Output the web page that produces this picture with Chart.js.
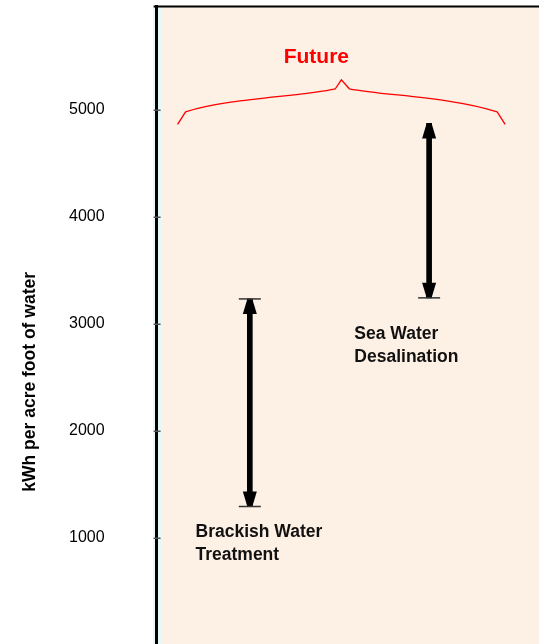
<!DOCTYPE html>
<html>
<head>
<meta charset="utf-8">
<script src="https://cdn.jsdelivr.net/npm/chart.js@4/dist/chart.umd.min.js"></script>
<style>
  html, body { margin: 0; padding: 0; background: #ffffff; overflow: hidden; width: 539px; height: 644px; }
  #wrap { position: absolute; left: 0; top: 0; }
</style>
</head>
<body>
<div id="wrap"><canvas id="c" width="560" height="762"></canvas></div>
<script>
// ---- data ----
const categories = ["Brackish Water Treatment", "Sea Water Desalination"];
const categoryLines = [["Brackish Water", "Treatment"], ["Sea Water", "Desalination"]];
const rangeLow  = [1290, 3240];
const rangeHigh = [3230, 4870];
const tickValues = [1000, 2000, 3000, 4000, 5000];
const tickLabels = ["1000", "2000", "3000", "4000", "5000"];
const axisTitle = "kWh per acre foot of water";
const futureLabel = "Future";

// ---- layout / annotation settings ----
const FONT = "'Liberation Sans', Arial, Helvetica, sans-serif";
const yMin = -1053, yMax = 5963;
const xMin = 0.48, xMax = 2.73;
const capTop = [true, false];
const labelAnchor = [{x: 0.697, y: 1009}, {x: 1.583, y: 2857}];
const brace = {x0: 0.597, x1: 2.424, yEnd: 4862, yMid: 5119, yTip: 5278};
const futureAnchor = {x: 1.371, y: 5432};

const xs = categories.map((c, i) => i + 1);

const decorPlugin = {
  id: 'decor',
  beforeDraw(chart) {
    const {ctx, chartArea: a} = chart;
    ctx.save();
    ctx.fillStyle = '#fdf0e4';
    ctx.fillRect(a.left, a.top, a.right - a.left, a.bottom - a.top);
    // light fringe around the axis line
    ctx.strokeStyle = '#e4f9f9';
    ctx.lineWidth = 8;
    ctx.beginPath();
    ctx.moveTo(a.left + 0.5, a.top);
    ctx.lineTo(a.left + 0.5, a.bottom);
    ctx.stroke();
    ctx.restore();
  },
  afterDraw(chart) {
    const {ctx, chartArea: a, scales} = chart;
    const X = v => scales.x.getPixelForValue(v);
    const Y = v => scales.y.getPixelForValue(v);
    ctx.save();
    // top border
    ctx.strokeStyle = '#000';
    ctx.lineWidth = 2;
    ctx.beginPath();
    ctx.moveTo(a.left - 3, a.top);
    ctx.lineTo(a.right, a.top);
    ctx.stroke();
    // inner tick marks
    ctx.strokeStyle = '#555';
    ctx.lineWidth = 1.5;
    tickValues.forEach(v => {
      const y = Math.round(Y(v)) + 0.25;
      ctx.beginPath();
      ctx.moveTo(a.left - 3, y);
      ctx.lineTo(a.left + 4, y);
      ctx.stroke();
    });
    // arrow heads and caps
    xs.forEach((xv, i) => {
      const x = X(xv);
      const yt = Y(rangeHigh[i]);
      const yb = Y(rangeLow[i]);
      const hw = 7, tw = 2.5, hh = 15;
      ctx.fillStyle = '#000';
      ctx.beginPath();
      ctx.moveTo(x - tw, yt);
      ctx.lineTo(x + tw, yt);
      ctx.lineTo(x + hw, yt + hh);
      ctx.lineTo(x - hw, yt + hh);
      ctx.closePath();
      ctx.fill();
      ctx.beginPath();
      ctx.moveTo(x - tw, yb);
      ctx.lineTo(x + tw, yb);
      ctx.lineTo(x + hw, yb - hh);
      ctx.lineTo(x - hw, yb - hh);
      ctx.closePath();
      ctx.fill();
      ctx.strokeStyle = '#333';
      ctx.lineWidth = 1.5;
      if (capTop[i]) {
        ctx.beginPath();
        ctx.moveTo(x - 11, yt);
        ctx.lineTo(x + 11, yt);
        ctx.stroke();
      }
      ctx.beginPath();
      ctx.moveTo(x - 11, yb);
      ctx.lineTo(x + 11, yb);
      ctx.stroke();
      // category label
      ctx.fillStyle = '#111';
      ctx.font = 'bold 17.5px ' + FONT;
      ctx.textAlign = 'left';
      ctx.textBaseline = 'alphabetic';
      const lx = X(labelAnchor[i].x), ly = Y(labelAnchor[i].y);
      categoryLines[i].forEach((t, k) => ctx.fillText(t, lx, ly + k * 23));
    });
    // brace
    const pl = X(brace.x0), pr = X(brace.x1), pc = (pl + pr) / 2;
    const ye = Y(brace.yEnd), ym = Y(brace.yMid), yt = Y(brace.yTip);
    ctx.strokeStyle = '#ff0000';
    ctx.lineWidth = 1.3;
    ctx.beginPath();
    ctx.moveTo(pl, ye);
    ctx.lineTo(pl + 8, ye - 12.5);
    ctx.bezierCurveTo(pl + 53, ym + 1, pc - 42, ym, pc - 6, yt + 9);
    ctx.lineTo(pc, yt);
    ctx.lineTo(pc + 8, yt + 9);
    ctx.bezierCurveTo(pc + 45, ym - 1, pr - 55, ym, pr - 8, ye - 12.5);
    ctx.lineTo(pr, ye);
    ctx.stroke();
    // Future label
    ctx.fillStyle = '#ff0000';
    ctx.font = 'bold 21px ' + FONT;
    ctx.textAlign = 'center';
    ctx.textBaseline = 'alphabetic';
    ctx.fillText(futureLabel, X(futureAnchor.x), Y(futureAnchor.y));
    ctx.restore();
  }
};

new Chart(document.getElementById('c'), {
  type: 'bar',
  data: {
    datasets: [{
      label: 'kWh range',
      data: xs.map((x, i) => ({x: x, y: [rangeLow[i], rangeHigh[i]]})),
      backgroundColor: '#000',
      borderWidth: 0,
      barThickness: 5,
      borderSkipped: false
    }]
  },
  options: {
    responsive: false,
    animation: false,
    events: [],
    layout: {autoPadding: false, padding: {top: 6.5, left: 0, right: 0, bottom: 0}},
    plugins: {legend: {display: false}, tooltip: {enabled: false}},
    scales: {
      x: {type: 'linear', min: xMin, max: xMax, display: false, offset: false},
      y: {
        type: 'linear', min: yMin, max: yMax,
        afterBuildTicks: axis => { axis.ticks = tickValues.map(v => ({value: v})); },
        ticks: {
          callback: v => tickLabels[tickValues.indexOf(v)],
          font: {family: FONT, size: 16, lineHeight: 0.6},
          color: '#000',
          padding: 0
        },
        grid: {display: true, drawOnChartArea: false, drawTicks: true, tickLength: 52, tickColor: 'rgba(0,0,0,0)'},
        border: {display: true, color: '#000', width: 3},
        title: {
          display: true, text: axisTitle, color: '#000',
          font: {family: FONT, size: 17.5, weight: 'bold'},
          padding: {top: 20, bottom: 28}
        }
      }
    }
  },
  plugins: [decorPlugin]
});
</script>
</body>
</html>
